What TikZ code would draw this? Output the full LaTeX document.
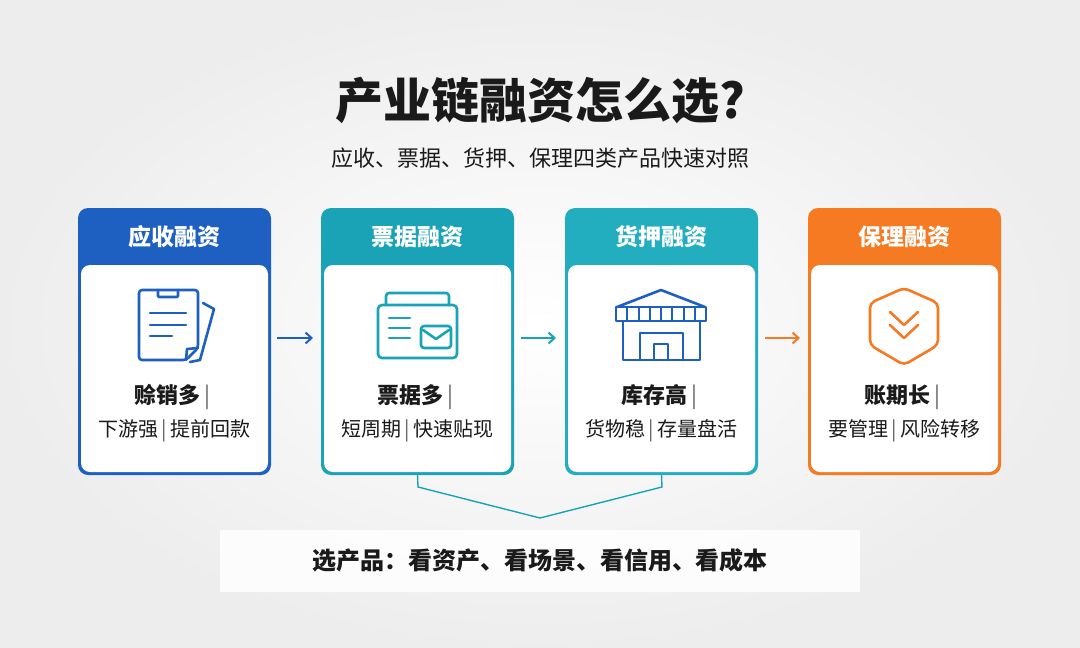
\documentclass[tikz,border=0pt]{standalone}
\usepackage{fontspec}
\setmainfont{Noto Sans CJK SC}
\usetikzlibrary{arrows.meta}
\definecolor{cblue}{HTML}{1E5FC2}
\definecolor{cteal}{HTML}{1AA3B6}
\definecolor{cteal2}{HTML}{22AEBF}
\definecolor{corange}{HTML}{F57A22}
\definecolor{txt}{HTML}{1A1A1A}
\newcommand\pp{\,{\color{txt!70}\fontseries{m}\selectfont|}\,}
\begin{document}
\begin{tikzpicture}[x=1pt,y=-1pt,
  hdr/.style={font=\fontsize{23}{23}\selectfont\bfseries,text=white},
  l1/.style={font=\fontsize{22}{22}\selectfont\bfseries,text=txt},
  l2/.style={font=\fontsize{20}{20}\selectfont,text=txt},
  ic/.style={line width=2.6pt,line join=round,line cap=round},
  arr/.style={line width=2pt,-{Straight Barb[length=6pt,width=11pt,line width=2pt]}}]
\useasboundingbox (0,0) rectangle (1080,648);
\shade[inner color=white,outer color=gray!14] (0,0) rectangle (1080,648);
\fill[white,opacity=0.85] (220,530) rectangle (860,592);
\node[font=\fontsize{48}{48}\selectfont\bfseries,text=txt] (title) at (540,100) {产业链融资怎么选?};
\node[font=\fontsize{22}{22}\selectfont,text=txt] (sub) at (540,158) {应收、票据、货押、保理四类产品快速对照};
\newcommand\card[6]{%
  \fill[#2,rounded corners=10pt] (#1,208) rectangle ++(193,267);
  \fill[white,rounded corners=9pt] (#1+3,265) rectangle ++(187,207);
  \node[hdr] (h#6) at (#1+96.5,237) {#3};
  \node[l1] (a#6) at (#1+96.5,397) {#4\pp};
  \node[l2] (b#6) at (#1+96.5,431) {#5};
  \coordinate (c#6) at (#1+96.5,475);
}
\card{78}{cblue}{应收融资}{赊销多}{下游强\pp 提前回款}{1}
\card{321}{cteal}{票据融资}{票据多}{短周期\pp 快速贴现}{2}
\card{565}{cteal2}{货押融资}{库存高}{货物稳\pp 存量盘活}{3}
\card{808}{corange}{保理融资}{账期长}{要管理\pp 风险转移}{4}
% arrows
\draw[arr,cblue] (277,338) -- (313,338);
\draw[arr,cteal] (521,338) -- (556,338);
\draw[arr,corange] (765,338) -- (800,338);
% bracket
\coordinate (m) at (540,518);
\draw[cteal,line width=1.4pt] (c2) -- (418,487) -- (m) -- (662,487) -- (c3);
\node[font=\fontsize{24}{24}\selectfont\bfseries,text=txt] (bot) at (540,560) {选产品：看资产、看场景、看信用、看成本};
% icon1
\draw[ic,cblue,fill=white] (203,303) -- (214,309) -- (200,360) -- (190,362);
\draw[ic,cblue,fill=white,rounded corners=3pt] (139,290) -- (198,290) -- (198,348) -- (186,360) -- (139,360) -- cycle;
\draw[ic,cblue] (186,360) -- (187,349) -- (198,348);
\draw[ic,cblue,rounded corners=1pt] (158,290) -- (158,297) -- (178,297) -- (178,290);
\draw[ic,cblue] (150,313) -- (186,313) (150,325) -- (186,325) (150,336) -- (172,336);
% icon2
\draw[ic,cteal,rounded corners=3pt] (386,305) -- (386,293) -- (449,293) -- (449,305);
\draw[ic,cteal,rounded corners=4pt] (378,305) rectangle (457,358);
\draw[ic,cteal] (389,318) -- (410,318) (389,328) -- (410,328) (389,338) -- (410,338);
\draw[ic,cteal,rounded corners=3pt] (421,326) rectangle (451,348);
\draw[ic,cteal] (423,330) -- (436,339) -- (449,330);
% icon3
\draw[ic,cblue] (617,307) -- (661,290) -- (705,307);
\draw[ic,cblue] (616,307) rectangle (706,321);
\foreach \i in {1,...,7} \draw[cblue,line width=2pt] (616+\i*11.25,307) -- (616+\i*11.25,321);
\draw[ic,cblue] (623,321) -- (623,360) -- (700,360) -- (700,321);
\draw[ic,cblue] (640,360) -- (640,333) -- (683,333) -- (683,360);
\draw[ic,cblue] (654,360) -- (654,344) -- (668,344) -- (668,360);
% icon4
\draw[ic,corange,rounded corners=5pt] (904,288) -- (938,303) -- (938,345) -- (904,365) -- (870,345) -- (870,303) -- cycle;
\draw[ic,corange] (890,312) -- (904,325) -- (918,312);
\draw[ic,corange] (890,325) -- (904,338) -- (918,325);
\end{tikzpicture}
\end{document}
